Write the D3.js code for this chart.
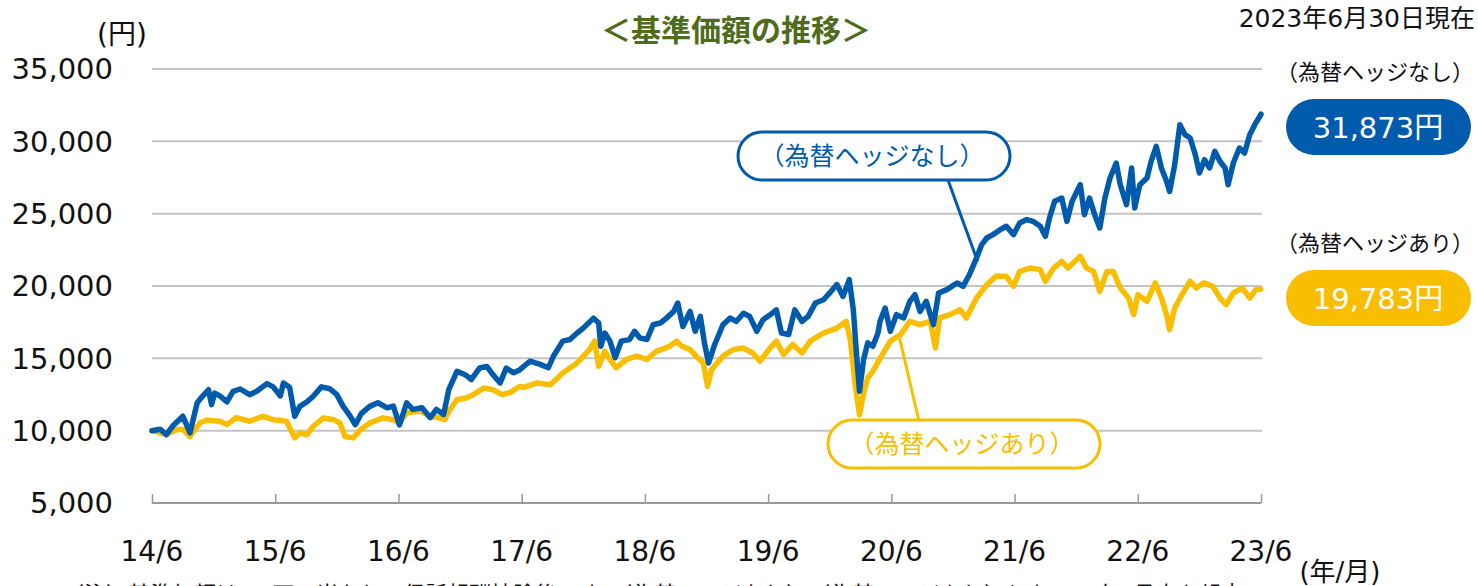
<!DOCTYPE html>
<html lang="ja">
<head>
<meta charset="UTF-8">
<title>基準価額の推移</title>
<script src="https://d3js.org/d3.v7.min.js"></script>
<style>
    body { margin: 0; background: #fff; }
    svg { display: block; }
    text { font-family: "DejaVu Sans", "Noto Sans CJK JP", sans-serif; fill: #111; }
    .jp { font-family: "Noto Sans CJK JP", sans-serif; }
    .grid line { stroke: #c4c4c4; stroke-width: 2px; }
    .series { fill: none; stroke-width: 5.5px; stroke-linejoin: round; stroke-linecap: round; }
</style>
</head>
<body>
<div id="chart"></div>
<script>
// months since 2014/6 and fund values (yen)
var noHedgeM = [0,0.8,1.4,2.0,3.0,3.7,4.4,4.8,5.5,5.8,6.1,6.6,7.3,7.9,8.6,9.5,10.2,11.2,11.8,12.5,12.8,13.4,13.9,14.4,15.1,15.7,16.5,17.3,18.0,18.6,19.3,19.8,20.4,21.2,22.0,22.9,23.5,24.1,24.8,25.4,26.3,27.1,27.7,28.4,28.9,29.7,30.5,31.1,31.9,32.6,33.2,33.9,34.5,35.2,35.8,36.8,37.8,38.6,39.1,40.0,40.7,41.4,42.0,43.0,43.5,43.7,44.1,44.6,45.1,45.7,46.5,47.0,47.5,48.2,48.8,49.5,50.1,50.8,51.2,51.7,52.4,52.9,53.4,53.8,54.2,54.8,55.6,56.3,56.9,57.6,58.2,58.9,59.5,60.2,60.8,61.3,62.0,62.6,63.3,63.9,64.6,65.4,66.0,66.7,67.3,67.9,68.3,68.6,68.9,69.3,69.7,70.2,70.7,70.9,71.4,71.9,72.5,73.2,73.8,74.3,74.8,75.4,76.1,76.6,77.4,78.4,79.0,79.6,80.3,80.8,81.3,81.9,82.6,83.2,83.9,84.5,85.2,85.8,86.5,87.0,87.4,87.9,88.6,89.1,89.6,90.0,90.4,90.8,91.3,91.8,92.3,92.8,93.3,93.9,94.3,94.9,95.4,95.7,96.2,96.9,97.3,97.8,98.3,98.8,99.1,99.6,100.1,100.6,101.1,101.6,102.0,102.5,103.0,103.5,104.0,104.5,104.8,105.3,105.9,106.4,106.9,107.4,108];
var noHedgeV = [10000,10100,9720,10300,11000,9850,11930,12280,12830,11800,12600,12400,12000,12720,12880,12490,12720,13250,13030,12400,13300,13000,11000,11680,12000,12380,13030,12900,12490,11700,11000,10410,11200,11680,11930,11580,11700,10400,11930,11470,11580,10900,11470,11120,12830,14100,13870,13540,14330,14440,13870,13300,14330,14000,14200,14800,14580,14350,15160,16190,16300,16750,17090,17780,17440,15830,16750,16190,15040,16190,16300,16870,16410,16300,17320,17440,17780,18240,18820,17200,18240,16870,17900,16070,14680,15960,17320,17780,17550,18120,17900,16870,17670,18010,18350,16750,16640,18350,17550,17900,18820,19050,19520,20100,19280,20440,18350,15370,12720,14920,16070,15830,16750,17560,18480,16870,18020,17790,18940,19400,18250,18940,17330,19520,19750,20210,19980,20780,21940,22860,23320,23550,23890,24130,23550,24360,24590,24470,24130,23430,24700,25850,26080,24470,25850,26430,27000,24930,26080,24930,24010,26080,27470,28500,27000,25620,28160,25390,27000,27470,28620,29650,28160,27240,26540,28390,31150,30460,30230,29080,27810,28730,28160,29310,28620,28160,27000,28500,29540,29190,30460,31150,31873];

var hedgeM = [0,1.4,2.4,3.0,3.7,4.7,5.3,6.6,7.3,8.2,9.5,10.8,11.8,13.1,13.9,14.4,15.1,15.7,16.7,17.7,18.3,18.8,19.6,20.3,21.2,22.5,23.5,24.1,24.8,26.1,27.1,28.0,28.5,29.0,29.7,30.6,31.3,32.3,33.2,34.1,34.9,35.8,36.2,37.5,38.8,40.0,41.4,42.6,43.1,43.5,44.1,44.6,45.2,46.2,47.2,48.2,49.1,50.4,51.1,51.6,52.4,53.0,53.7,54.1,54.5,55.6,56.6,57.6,58.5,59.2,60.2,60.8,61.5,62.4,63.3,64.1,65.4,66.7,67.6,68.0,68.5,68.9,69.3,69.7,70.2,70.9,71.9,72.9,73.8,74.8,75.8,76.3,76.7,77.7,78.7,79.3,80.3,81.3,82.2,83.2,83.9,84.5,85.5,86.5,87.0,87.8,88.6,89.2,89.7,90.4,91.0,91.7,92.3,93.0,93.6,94.3,95.1,95.6,96.0,96.9,97.7,98.3,98.8,99.1,99.6,100.3,101.1,101.7,102.4,103.3,104.0,104.6,105.3,106.2,106.9,107.5,108];
var hedgeV = [10000,9750,10070,10100,9600,10550,10720,10650,10420,10900,10650,10990,10760,10650,9500,9850,9720,10300,10880,10760,10530,9600,9500,10070,10530,10880,10760,10530,11230,11350,10990,10880,10760,11460,12140,12260,12490,12950,12830,12490,12650,13050,13000,13300,13180,13990,14680,15600,16190,14450,15480,14920,14350,14920,15150,14920,15480,15830,16190,15830,15600,15150,14680,13060,14220,15150,15600,15710,15370,14800,15710,16190,15260,15960,15370,16190,16750,17090,17550,16300,13060,11100,12600,13650,14100,15000,16180,16640,17560,17330,17560,15720,17790,18020,18360,17790,19170,20090,20670,20670,19980,21010,21240,21130,20320,21240,21700,21240,21590,22050,21240,21010,19630,21010,21010,19860,19170,18020,19400,18940,20210,19170,18020,16980,18480,19400,20330,19860,20210,19980,19170,18710,19520,19860,19170,19750,19783];

var yTicks = [5000, 10000, 15000, 20000, 25000, 30000, 35000];
var xTickMonths = [0, 12, 24, 36, 48, 60, 72, 84, 96, 108];
var xTickLabels = ["14/6", "15/6", "16/6", "17/6", "18/6", "19/6", "20/6", "21/6", "22/6", "23/6"];

var blue = "#005bac", yellow = "#f9be00";
var width = 1478, height = 586;

var svg = d3.select("#chart")
    .append("svg")
    .attr("width", width)
    .attr("height", height);

var x = d3.scaleLinear().domain([0, 108]).range([152, 1261]);
var y = d3.scaleLinear().domain([5000, 35000]).range([503, 69]);

// grid
svg.append("g")
    .attr("class", "grid")
    .selectAll("line")
    .data(yTicks.slice(1))
    .enter()
    .append("line")
    .attr("x1", x(0))
    .attr("x2", x(108) + 1)
    .attr("y1", function (d) { return y(d); })
    .attr("y2", function (d) { return y(d); });

// y labels
svg.append("g")
    .selectAll("text")
    .data(yTicks)
    .enter()
    .append("text")
    .attr("x", 113)
    .attr("y", function (d) { return y(d); })
    .attr("dy", "0.36em")
    .attr("text-anchor", "end")
    .style("font-size", "29px")
    .text(function (d) { return d3.format(",")(d); });

// x axis
var xAxis = svg.append("g")
    .attr("transform", "translate(0," + y(5000) + ")")
    .call(d3.axisBottom(x).tickValues(xTickMonths).tickSize(-9).tickFormat(""));
xAxis.select(".domain").attr("stroke", "#999").attr("stroke-width", 2).attr("d", "M" + x(0) + ",0H" + x(108));
xAxis.selectAll(".tick line").attr("stroke", "#999").attr("stroke-width", 1.5);

svg.append("g")
    .selectAll("text")
    .data(xTickMonths)
    .enter()
    .append("text")
    .attr("x", function (d) { return x(d); })
    .attr("y", 561)
    .attr("text-anchor", "middle")
    .style("font-size", "28px")
    .text(function (d, i) { return xTickLabels[i]; });

// series
var line = d3.line()
    .x(function (d) { return x(d[0]); })
    .y(function (d) { return y(d[1]); });

svg.append("path")
    .datum(d3.zip(hedgeM, hedgeV))
    .attr("class", "series")
    .attr("stroke", yellow)
    .attr("d", line);

svg.append("path")
    .datum(d3.zip(noHedgeM, noHedgeV))
    .attr("class", "series")
    .attr("stroke", blue)
    .attr("d", line);

// titles and units
svg.append("text")
    .attr("class", "jp")
    .attr("x", 736)
    .attr("y", 41)
    .attr("text-anchor", "middle")
    .style("font-size", "30px")
    .style("font-weight", "bold")
    .style("fill", "#4f6b1c")
    .text("＜基準価額の推移＞");

svg.append("text")
    .attr("x", 122)
    .attr("y", 44)
    .attr("text-anchor", "middle")
    .style("font-size", "28px")
    .text("(円)");

svg.append("text")
    .attr("x", 1475)
    .attr("y", 27)
    .attr("text-anchor", "end")
    .style("font-size", "25px")
    .text("2023年6月30日現在");

svg.append("text")
    .attr("x", 1340)
    .attr("y", 581)
    .attr("text-anchor", "middle")
    .style("font-size", "26px")
    .text("(年/月)");

// right side value badges
function badge(label, value, color, top) {
    svg.append("text")
        .attr("class", "jp")
        .attr("x", 1375)
        .attr("y", top - 19)
        .attr("text-anchor", "middle")
        .style("font-size", "22px")
        .text(label);
    svg.append("rect")
        .attr("x", 1286)
        .attr("y", top)
        .attr("width", 185)
        .attr("height", 56)
        .attr("rx", 28)
        .attr("fill", color);
    svg.append("text")
        .attr("x", 1378)
        .attr("y", top + 39)
        .attr("text-anchor", "middle")
        .style("font-size", "29px")
        .style("fill", "#fff")
        .text(value);
}
badge("（為替ヘッジなし）", d3.format(",")(noHedgeV[noHedgeV.length - 1]) + "円", blue, 99);
badge("（為替ヘッジあり）", d3.format(",")(hedgeV[hedgeV.length - 1]) + "円", yellow, 270);

// callouts
function callout(label, color, bx, by, lx1, ly1, lx2, ly2) {
    svg.append("line")
        .attr("x1", lx1).attr("y1", ly1)
        .attr("x2", lx2).attr("y2", ly2)
        .attr("stroke", color)
        .attr("stroke-width", 3);
    svg.append("rect")
        .attr("x", bx)
        .attr("y", by)
        .attr("width", 272)
        .attr("height", 48)
        .attr("rx", 24)
        .attr("fill", "#fff")
        .attr("stroke", color)
        .attr("stroke-width", 3);
    svg.append("text")
        .attr("class", "jp")
        .attr("x", bx + 134)
        .attr("y", by + 33)
        .attr("text-anchor", "middle")
        .style("font-size", "25px")
        .style("fill", color)
        .text(label);
}
callout("（為替ヘッジなし）", blue, 738, 132, 948, 180, x(80.4), y(21700));
callout("（為替ヘッジあり）", yellow, 828, 420, x(72.8), y(16400), 919, 421);

// footnote (cut at the bottom edge, as in the source)
svg.append("text")
    .attr("class", "jp")
    .attr("x", 62)
    .attr("y", 602)
    .style("font-size", "22px")
    .text("（注）基準価額は、1万口当たり、信託報酬控除後です。（為替ヘッジなし）、（為替ヘッジあり）とも2014年6月末を起点");
</script>
</body>
</html>
